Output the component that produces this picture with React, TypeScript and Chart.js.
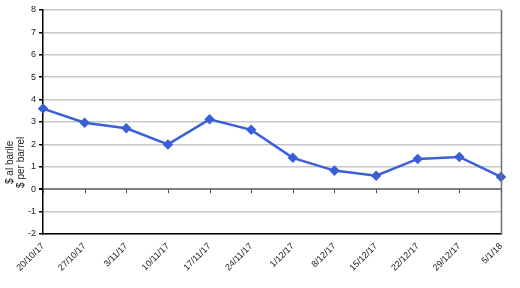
import React, { useEffect, useRef } from "react";
import { Chart, registerables } from "chart.js";

Chart.register(...registerables);

const categories = [
  "20/10/17", "27/10/17", "3/11/17", "10/11/17", "17/11/17", "24/11/17",
  "1/12/17", "8/12/17", "15/12/17", "22/12/17", "29/12/17", "5/1/18",
];
const spread = [3.6, 2.97, 2.72, 2.0, 3.12, 2.65, 1.4, 0.83, 0.6, 1.35, 1.44, 0.55];
const yTitle = ["$ al barile", "$ per barrel"];
const yMin = -2;
const yMax = 8;

const framePlugin = {
  id: "excelFrame",
  afterDatasetsDraw(chart: any) {
    const { ctx, chartArea, scales } = chart;
    const x = scales.x;
    const y = scales.y;
    const y0 = y.getPixelForValue(0);
    ctx.save();
    ctx.strokeStyle = "#707070";
    ctx.lineWidth = 1.5;
    ctx.beginPath();
    ctx.moveTo(chartArea.right + 0.5, chartArea.top);
    ctx.lineTo(chartArea.right + 0.5, chartArea.bottom);
    ctx.stroke();
    ctx.strokeStyle = "#505050";
    ctx.lineWidth = 1;
    ctx.beginPath();
    for (let i = 0; i < categories.length; i++) {
      const px = Math.round(x.getPixelForValue(i)) + 0.5;
      ctx.moveTo(px, y0);
      ctx.lineTo(px, y0 + 4);
    }
    ctx.stroke();
    // axis title, placed as in the original
    const cy = (y.getPixelForValue(1.2) + y.getPixelForValue(1.2)) / 2;
    ctx.fillStyle = "#202020";
    ctx.font = "10px 'Liberation Sans', Arial, sans-serif";
    ctx.textAlign = "center";
    ctx.textBaseline = "middle";
    ctx.translate(0, cy);
    ctx.rotate(-Math.PI / 2);
    ctx.fillText(yTitle[0], 0, 10);
    ctx.fillText(yTitle[1], 0, 21);
    ctx.restore();
  },
};

export default function App() {
  const ref = useRef<HTMLCanvasElement | null>(null);
  useEffect(() => {
    document.body.style.margin = "0";
    const chart = new Chart(ref.current as HTMLCanvasElement, {
      type: "line",
      data: {
        labels: categories,
        datasets: [
          {
            data: spread,
            borderColor: "#3a5fd6",
            backgroundColor: "#3a5fd6",
            borderWidth: 2.5,
            pointStyle: "rectRot",
            pointRadius: 3.5,
            pointHoverRadius: 3.5,
            tension: 0,
          },
        ],
      },
      options: {
        animation: false,
        responsive: false,
        maintainAspectRatio: false,
        layout: { padding: { top: 10, right: 19, left: 0, bottom: 0 } },
        plugins: { legend: { display: false }, tooltip: { enabled: false } },
        scales: {
          x: {
            offset: false,
            grid: { display: false, drawTicks: false },
            border: { display: true, color: "#000000", width: 1.5 },
            ticks: {
              autoSkip: false,
              maxRotation: 45,
              minRotation: 45,
              padding: 7,
              color: "#202020",
              font: { family: "Liberation Sans, Arial", size: 9 },
            },
            afterFit: (s: any) => {
              s.height = 54;
            },
          },
          y: {
            min: yMin,
            max: yMax,
            ticks: {
              stepSize: 1,
              padding: 3,
              color: "#202020",
              font: { family: "Liberation Sans, Arial", size: 9 },
            },
            grid: {
              color: (c: any) => (c.tick && c.tick.value === 0 ? "#808080" : "#c8c8c8"),
              lineWidth: (c: any) => (c.tick && c.tick.value === 0 ? 2 : 1.5),
              tickLength: 4,
              tickColor: "#000000",
            },
            border: { display: true, color: "#000000", width: 1.5 },
            afterFit: (s: any) => {
              s.width = 43;
            },
          },
        },
      },
      plugins: [framePlugin],
    });
    return () => chart.destroy();
  }, []);
  return (
    <div style={{ width: 520, height: 288, position: "relative" }}>
      <canvas ref={ref} width={520} height={288} style={{ width: 520, height: 288 }} />
    </div>
  );
}
